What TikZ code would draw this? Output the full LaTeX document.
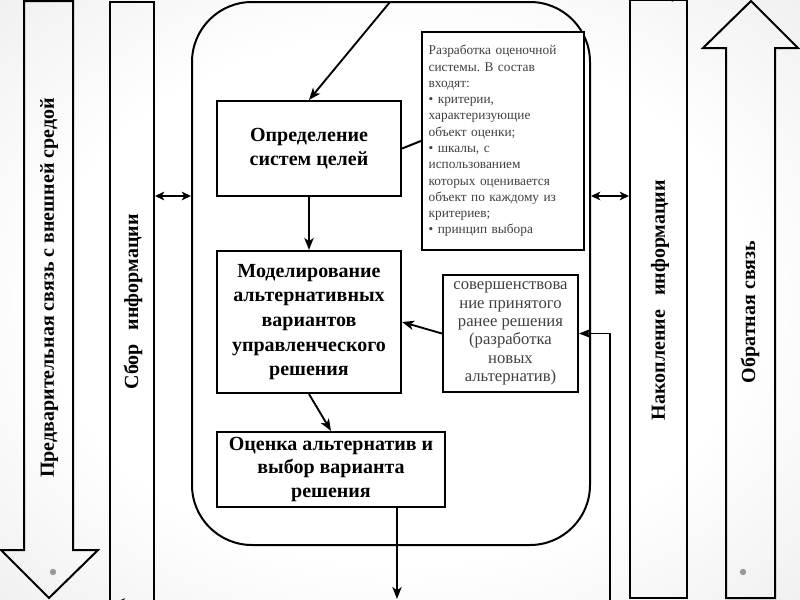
\documentclass[tikz,border=0pt]{standalone}
\usepackage{fontspec}
\setmainfont{Liberation Serif}
\usetikzlibrary{arrows.meta,calc}
\pgfdeclareradialshading{bgshade}{\pgfpoint{0bp}{0bp}}{color(0bp)=(white); color(22bp)=(white); color(50bp)=(black!12); color(72bp)=(black!21)}
\begin{document}
\frenchspacing
\begin{tikzpicture}[x=0.75pt,y=-0.75pt,
  thick line/.style={line width=1.5pt, draw=black},
  box/.style={draw=black, line width=1.6pt, fill=white, align=center, inner sep=2pt},
  title/.style={font=\fontsize{15}{18.5}\selectfont\bfseries},
  small/.style={font=\fontsize{10}{12.2}\selectfont, text=black!75},
  mid/.style={font=\fontsize{12.5}{13.8}\selectfont, text=black!75},
  rot/.style={rotate=90, font=\fontsize{15}{18}\selectfont\bfseries},
  column/.style={draw=black, line width=1.5pt, inner sep=0pt},
  arr/.style={line width=1.4pt, -{Stealth[length=9pt,width=7pt,inset=2.5pt]}},
  dbl/.style={line width=1.4pt, {Stealth[length=7pt,width=6.5pt,inset=2pt]}-{Stealth[length=7pt,width=6.5pt,inset=2pt]}}
]
\useasboundingbox (0,0) rectangle (800,600);
\shade[shading=bgshade] (0,0) rectangle (800,600);
\begin{scope}
\clip (0,0) rectangle (800,600);

% block arrows
\draw[thick line, line join=miter] (24,1) -- (24,550) -- (1,550) -- (49,598) -- (98,550) -- (73,550) -- (73,1) -- cycle;
\draw[thick line, line join=miter] (751,1) -- (798,48) -- (775,48) -- (775,598) -- (726,598) -- (726,48) -- (703,48) -- cycle;
\fill[black!40] (53,572) circle (2.4pt);
\fill[black!40] (743,572) circle (2.4pt);

% columns
\node[column, minimum width=33pt, minimum height=456pt] (Sb) at (132,306) {};
\node[column, minimum width=42.75pt, minimum height=448.5pt] (Nk) at (658.5,299) {};

% rotated labels
\node[rot] (L1) at (49,288) {Предварительная связь с внешней средой};
\node[rot] (L2) at (133,302) {Сбор\hspace{0.7em}информации};
\node[rot] (L3) at (660,300) {Накопление\hspace{0.7em}информации};
\node[rot] (L4) at (750,312) {Обратная связь};

% rounded frame
\node[draw=black, line width=1.5pt, rounded corners=45pt, minimum width=298.5pt, minimum height=407.25pt, inner sep=0pt] (R) at (391,273.5) {};

% boxes
\node[box, title, minimum width=138pt, minimum height=71.25pt] (B1) at (309,148.5) {Определение\\систем целей};
\node[box, title, minimum width=138pt, minimum height=106.5pt] (B2) at (309,322) {Моделирование\\альтернативных\\вариантов\\управленческого\\решения};
\node[box, title, font=\fontsize{15}{17.6}\selectfont\bfseries, minimum width=171pt, minimum height=56.25pt] (B3) at (331,469.5) {Оценка альтернатив и\\выбор варианта\\решения};
\node[box, small, align=left, text width=111.5pt, inner xsep=5pt, minimum height=163.5pt] (T1) at (503,141) {Разработка оценочной\\системы. В состав\\входят:\\• критерии,\\характеризующие\\объект оценки;\\• шкалы, с\\использованием\\которых оценивается\\объект по каждому из\\критериев;\\• принцип выбора};
\node[box, mid, minimum width=101.25pt, minimum height=87.75pt] (T2) at (510.5,333.5) {совершенствова\\ние принятого\\ранее решения\\(разработка\\новых\\альтернатив)};

% coordinates
\coordinate (topin) at (390,2);
\coordinate (outB) at (397,599);
\coordinate (fb) at (610,601);
\coordinate (y196) at (0,196);
\coordinate (fragA) at (725,-3);
\coordinate (fragB) at (661,-3);
\coordinate (fragC) at (160,603);
\coordinate (fragD) at (113,603);

% connectors
\draw[arr] (topin) -- (B1.north);
\draw[arr] (B1) -- (B2);
\draw[arr] (B2.south) -- (B3.north);
\draw[arr] (B3.south -| outB) -- (outB);
\draw[arr] (T2.west) -- (B2.east);
\draw[thick line] (B1.east) -- (T1.west);
\draw[arr] (fb) |- (T2.east);
\draw[dbl] (Sb.east |- y196) -- (R.west |- y196);
\draw[dbl] (R.east |- y196) -- (Nk.west |- y196);
\draw[arr] (fragA) -- (fragB);
\draw[arr] (fragC) -- (fragD);
\end{scope}
\end{tikzpicture}
\end{document}
